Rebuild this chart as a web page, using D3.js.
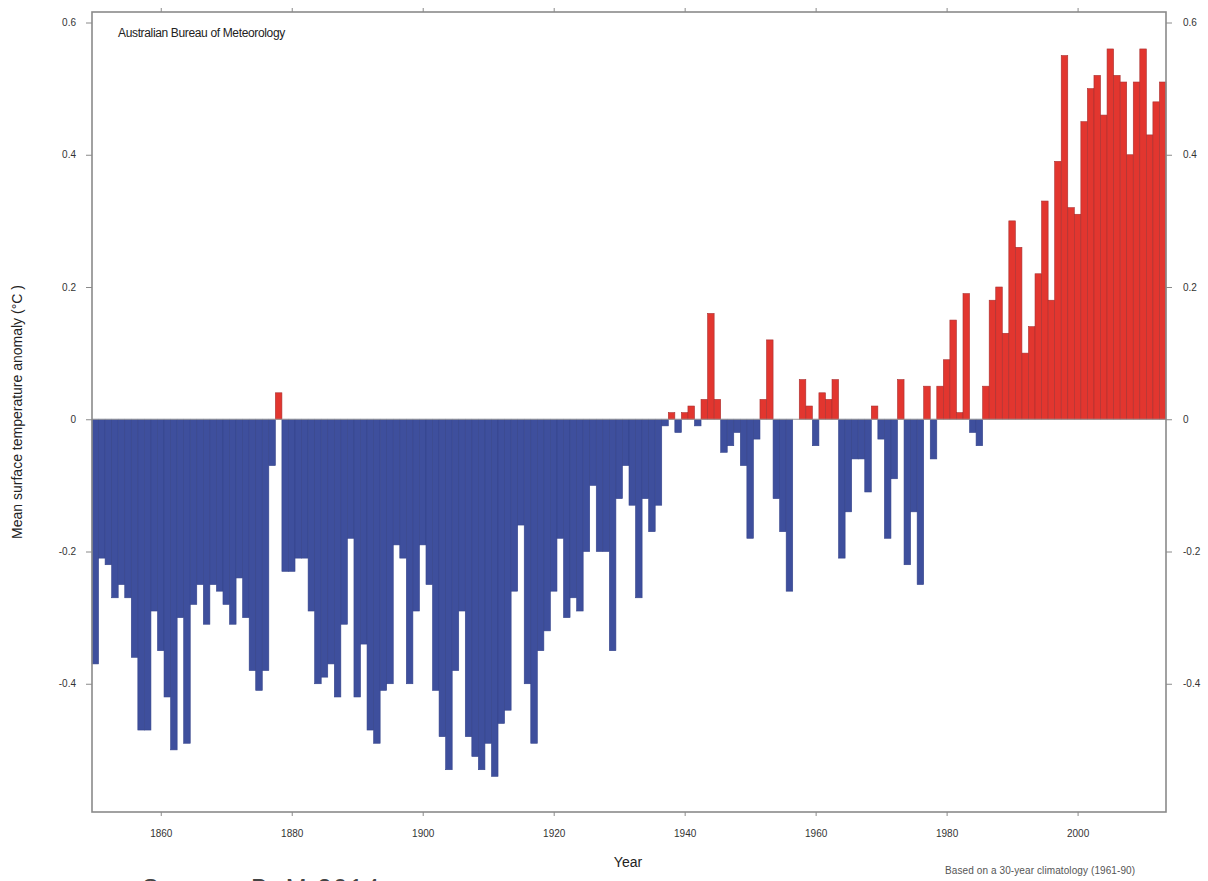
<!DOCTYPE html>
<html>
<head>
<meta charset="utf-8">
<script src="https://cdn.jsdelivr.net/npm/d3@7"></script>
<style>
  html, body { margin: 0; padding: 0; background: #fff; }
  svg { display: block; font-family: "Liberation Sans", Arial, sans-serif; }
</style>
</head>
<body>
<svg id="chart" width="1208" height="881"></svg>
<script>
// ---- Data ----
const firstYear = 1850;
const anomalies = [
  -0.37, -0.21, -0.22, -0.27, -0.25, -0.27, -0.36, -0.47, -0.47, -0.29, // 1850-1859
  -0.35, -0.42, -0.50, -0.30, -0.49, -0.28, -0.25, -0.31, -0.25, -0.26, // 1860-1869
  -0.28, -0.31, -0.24, -0.30, -0.38, -0.41, -0.38, -0.07,  0.04, -0.23, // 1870-1879
  -0.23, -0.21, -0.21, -0.29, -0.40, -0.39, -0.37, -0.42, -0.31, -0.18, // 1880-1889
  -0.42, -0.34, -0.47, -0.49, -0.41, -0.40, -0.19, -0.21, -0.40, -0.29, // 1890-1899
  -0.19, -0.25, -0.41, -0.48, -0.53, -0.38, -0.29, -0.48, -0.51, -0.53, // 1900-1909
  -0.49, -0.54, -0.46, -0.44, -0.26, -0.16, -0.40, -0.49, -0.35, -0.32, // 1910-1919
  -0.26, -0.18, -0.30, -0.27, -0.29, -0.20, -0.10, -0.20, -0.20, -0.35, // 1920-1929
  -0.12, -0.07, -0.13, -0.27, -0.12, -0.17, -0.13, -0.01,  0.01, -0.02, // 1930-1939
   0.01,  0.02, -0.01,  0.03,  0.16,  0.03, -0.05, -0.04, -0.02, -0.07, // 1940-1949
  -0.18, -0.03,  0.03,  0.12, -0.12, -0.17, -0.26,  0.00,  0.06,  0.02, // 1950-1959
  -0.04,  0.04,  0.03,  0.06, -0.21, -0.14, -0.06, -0.06, -0.11,  0.02, // 1960-1969
  -0.03, -0.18, -0.09,  0.06, -0.22, -0.14, -0.25,  0.05, -0.06,  0.05, // 1970-1979
   0.09,  0.15,  0.01,  0.19, -0.02, -0.04,  0.05,  0.18,  0.20,  0.13, // 1980-1989
   0.30,  0.26,  0.10,  0.14,  0.22,  0.33,  0.18,  0.39,  0.55,  0.32, // 1990-1999
   0.31,  0.45,  0.50,  0.52,  0.46,  0.56,  0.52,  0.51,  0.40,  0.51, // 2000-2009
   0.56,  0.43,  0.48,  0.51                                            // 2010-2013
];
const years = anomalies.map((_, i) => firstYear + i);
const xTickYears = [1860, 1880, 1900, 1920, 1940, 1960, 1980, 2000];
const yTickValues = [-0.4, -0.2, 0, 0.2, 0.4, 0.6];
const yTickLabels = ["-0.4", "-0.2", "0", "0.2", "0.4", "0.6"];

const titleText = "Australian Bureau of Meteorology";
const yAxisTitle = "Mean surface temperature anomaly (\u00B0C )";
const xAxisTitle = "Year";
const noteText = "Based on a 30-year climatology (1961-90)";
const sourceText = "Source: BoM 2014";

// ---- Layout ----
const plot = { left: 92, right: 1166, top: 12, bottom: 812 };
const svg = d3.select("#chart");

const x = d3.scaleBand().domain(years).range([plot.left, plot.right]).padding(0);
const y = d3.scaleLinear().domain([-0.6, 0.6]).range([816, 22.5]);

const blue = "#3e4f9d", blueStroke = "#34438a";
const red = "#e2362f", redStroke = "#a93030";
const axisColor = "#8a8a8a";
const textColor = "#333";

// Bars
svg.append("g").selectAll("rect")
  .data(years.map((yr, i) => ({ year: yr, v: anomalies[i] })).filter(d => d.v !== 0))
  .join("rect")
  .attr("x", d => x(d.year))
  .attr("width", x.bandwidth())
  .attr("y", d => d.v >= 0 ? y(d.v) : y(0))
  .attr("height", d => Math.abs(y(d.v) - y(0)))
  .attr("fill", d => d.v >= 0 ? red : blue)
  .attr("stroke", d => d.v >= 0 ? redStroke : blueStroke)
  .attr("stroke-width", 0.6);

// Zero line
svg.append("line")
  .attr("x1", plot.left).attr("x2", plot.right)
  .attr("y1", y(0)).attr("y2", y(0))
  .attr("stroke", "#9a9a9a").attr("stroke-width", 1);

// Frame
svg.append("rect")
  .attr("x", plot.left).attr("y", plot.top)
  .attr("width", plot.right - plot.left).attr("height", plot.bottom - plot.top)
  .attr("fill", "none").attr("stroke", axisColor).attr("stroke-width", 1.6);

function styleAxis(g) {
  g.select(".domain").remove();
  g.selectAll(".tick line").attr("stroke", axisColor).attr("stroke-width", 1);
  g.selectAll(".tick text").attr("fill", textColor).attr("font-size", 10)
    .attr("font-family", "'Liberation Sans', Arial, sans-serif");
}

const xCenter = d => x(d) + x.bandwidth() / 2;
const xLin = d3.scaleLinear().domain([firstYear, firstYear + years.length - 1])
  .range([xCenter(firstYear), xCenter(firstYear + years.length - 1)]);

// Bottom axis
svg.append("g").attr("transform", `translate(0,${plot.bottom})`)
  .call(d3.axisBottom(xLin).tickValues(xTickYears).tickFormat(d3.format("d")).tickSize(4).tickPadding(14))
  .call(styleAxis);

// Top axis (ticks only)
svg.append("g").attr("transform", `translate(0,${plot.top})`)
  .call(d3.axisTop(xLin).tickValues(xTickYears).tickFormat("").tickSize(4))
  .call(styleAxis);

// Left axis
svg.append("g").attr("transform", `translate(${plot.left},0)`)
  .call(d3.axisLeft(y).tickValues(yTickValues)
    .tickFormat((d, i) => yTickLabels[i]).tickSize(6).tickPadding(10))
  .call(styleAxis);

// Right axis
svg.append("g").attr("transform", `translate(${plot.right},0)`)
  .call(d3.axisRight(y).tickValues(yTickValues)
    .tickFormat((d, i) => yTickLabels[i]).tickSize(6).tickPadding(11))
  .call(styleAxis);

// Texts
svg.append("text").attr("x", 118).attr("y", 37)
  .attr("font-size", 12).attr("fill", "#222").attr("letter-spacing", -0.35)
  .text(titleText);

svg.append("text")
  .attr("transform", "translate(22,412) rotate(-90)")
  .attr("text-anchor", "middle").attr("font-size", 14).attr("fill", "#222")
  .text(yAxisTitle);

svg.append("text").attr("x", 628).attr("y", 867)
  .attr("text-anchor", "middle").attr("font-size", 14).attr("fill", "#222")
  .text(xAxisTitle);

svg.append("text").attr("x", 945).attr("y", 874)
  .attr("font-size", 10).attr("fill", "#555").attr("letter-spacing", 0.1)
  .text(noteText);

svg.append("text").attr("x", 142).attr("y", 897)
  .attr("font-size", 25).attr("fill", "#444").attr("letter-spacing", 2)
  .text(sourceText);
</script>
</body>
</html>
